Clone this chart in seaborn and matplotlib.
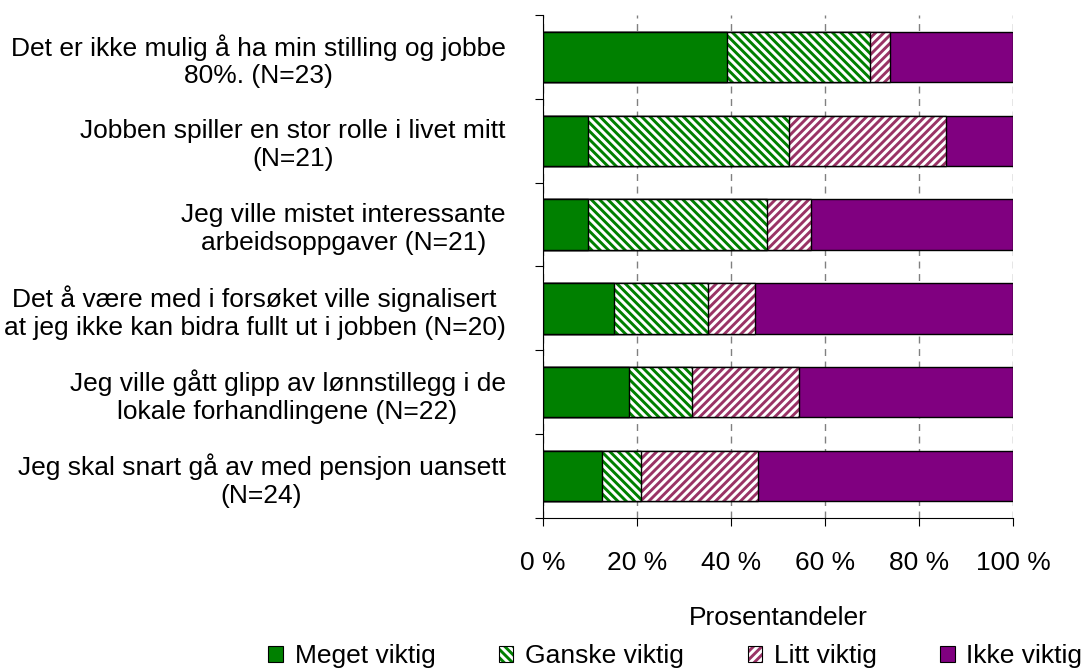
import numpy as np
import pandas as pd
import matplotlib.pyplot as plt
import matplotlib.patches as mpatches
from matplotlib.colors import to_rgba
import seaborn as sns

# Utsagn (kategorier) og andeler i prosent per svaralternativ
utsagn = [
    'Det er ikke mulig å ha min stilling og jobbe\n80%. (N=23)',
    'Jobben spiller en stor rolle i livet mitt\n(N=21)',
    'Jeg ville mistet interessante\narbeidsoppgaver (N=21)',
    'Det å være med i forsøket ville signalisert\nat jeg ikke kan bidra fullt ut i jobben (N=20)',
    'Jeg ville gått glipp av lønnstillegg i de\nlokale forhandlingene (N=22)',
    'Jeg skal snart gå av med pensjon uansett\n(N=24)',
]
meget_viktig = [39.1, 9.5, 9.5, 15.0, 18.2, 12.5]
ganske_viktig = [30.4, 42.9, 38.1, 20.0, 13.6, 8.3]
litt_viktig = [4.3, 33.3, 9.5, 10.0, 22.7, 25.0]
ikke_viktig = [26.1, 14.3, 42.9, 55.0, 45.5, 54.2]

serier = ['Meget viktig', 'Ganske viktig', 'Litt viktig', 'Ikke viktig']
fyllfarge = ['#008000', 'white', 'white', '#800080']
skravur = [None, '\\\\\\\\', '////', None]
skravurfarge = ['black', '#008000', '#993366', 'black']

df = pd.DataFrame({'utsagn': utsagn, 'Meget viktig': meget_viktig,
                   'Ganske viktig': ganske_viktig, 'Litt viktig': litt_viktig,
                   'Ikke viktig': ikke_viktig})
# kumulative summer for stablede stolper
kum = df[serier].cumsum(axis=1)

sns.set_theme(style='white')
plt.rcParams['font.family'] = ['Liberation Sans', 'DejaVu Sans']
plt.rcParams.update({'font.size': 19, 'axes.labelsize': 19, 'xtick.labelsize': 19,
                     'ytick.labelsize': 19, 'legend.fontsize': 19,
                     'text.color': 'black', 'axes.labelcolor': 'black',
                     'xtick.color': 'black', 'ytick.color': 'black',
                     'hatch.linewidth': 2.1})

fig = plt.figure(figsize=(10.83, 6.69), dpi=100)
ax = fig.add_axes([0.5014, 0.2257, 0.434, 0.752])

# tegn bakerste (lengste) lag først
for i in reversed(range(len(serier))):
    n_for = len(ax.patches)
    sns.barplot(x=kum[serier[i]], y=df['utsagn'], color=fyllfarge[i], saturation=1,
                width=0.6, edgecolor='black', linewidth=1.0, hatch=skravur[i],
                orient='h', ax=ax)
    for p in ax.patches[n_for:]:
        p._hatch_color = to_rgba(skravurfarge[i])

ax.set_xlim(0, 100)
ax.set_ylim(5.5, -0.5)
ax.set_xticks(np.arange(0, 101, 20))
ax.set_xticklabels([f'{v} %' for v in range(0, 101, 20)])
ax.set_yticks(np.arange(-0.5, 6, 1), minor=True)
ax.tick_params(axis='y', which='major', length=0, pad=27)
ax.tick_params(axis='y', which='minor', left=True, length=6, width=0.8, color='black', direction='out')
ax.tick_params(axis='x', which='major', bottom=True, length=6, width=0.8, color='black', direction='out', pad=18)
for lbl in ax.get_yticklabels():
    lbl.set_multialignment('center')
ax.set_ylabel('')
ax.set_xlabel('Prosentandeler', labelpad=22)

ax.grid(axis='x', linestyle=(0, (5, 4)), color='#808080', linewidth=1.0)
ax.grid(axis='y', visible=False)
ax.set_axisbelow(True)
for s in ['top', 'right']:
    ax.spines[s].set_visible(False)
for s in ['left', 'bottom']:
    ax.spines[s].set_color('black')
    ax.spines[s].set_linewidth(0.8)

handles = []
for i, navn in enumerate(serier):
    h = mpatches.Patch(facecolor=fyllfarge[i], edgecolor='black', linewidth=0.8,
                       hatch=skravur[i], label=navn)
    h._hatch_color = to_rgba(skravurfarge[i])
    handles.append(h)
fig.legend(handles=handles, loc='center', bbox_to_anchor=(0.6237, 0.019), ncol=4,
           frameon=False, handlelength=0.55, handleheight=0.55, handletextpad=0.45,
           columnspacing=2.4, borderaxespad=0, borderpad=0)

plt.savefig('out.png', dpi=100)
